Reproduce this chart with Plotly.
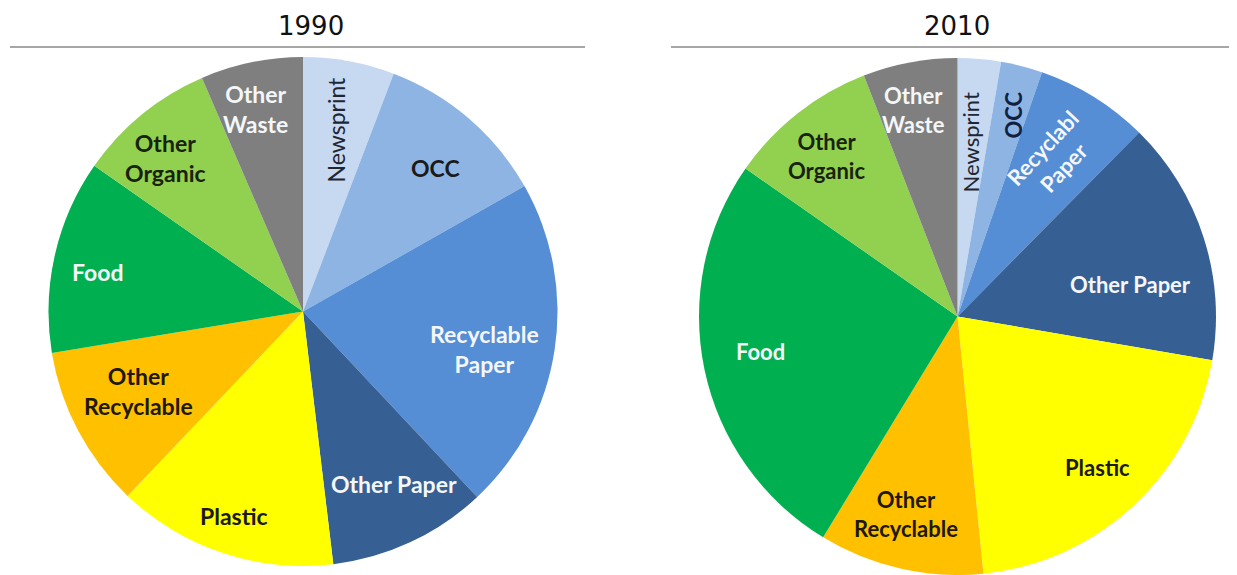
import plotly.graph_objects as go

# page body has an 8px margin; the figure is sized so the page matches the window
OFF = 8
W, H = 1237 - OFF, 575 - OFF

categories = ["Newsprint", "OCC", "Recyclable Paper", "Other Paper", "Plastic",
              "Other Recyclable", "Food", "Other Organic", "Other Waste"]
share_1990 = [5.8, 11.0, 21.2, 10.1, 14.0, 10.3, 12.3, 8.8, 6.5]
share_2010 = [2.7, 2.6, 7.1, 15.3, 20.7, 10.3, 26.0, 9.4, 5.9]
years = ["1990", "2010"]

colors = ["#c6d9f1", "#8db4e2", "#558ed5", "#365f93", "#ffff00",
          "#ffc000", "#00b050", "#92d050", "#7f7f7f"]


def px_x(x):
    return (x - OFF) / W


def px_y(y):
    return 1 - (y - OFF) / H


fig = go.Figure()

# pie boxes (page pixels): centre x, centre y, radius
boxes = [(303, 311.5, 254.5), (957.5, 316.5, 258.5)]
for vals, (cx, cy, r), yr in zip([share_1990, share_2010], boxes, years):
    fig.add_trace(go.Pie(
        labels=categories, values=vals, sort=False, direction="clockwise",
        rotation=0, textinfo="none", hoverinfo="label+percent",
        marker=dict(colors=colors, line=dict(width=0)),
        domain=dict(x=[px_x(cx - r), min(1, px_x(cx + r))],
                    y=[max(0, px_y(cy + r)), px_y(cy - r)]),
        showlegend=False, name=yr,
    ))

annotations = []
# titles
for yr, cx in zip(years, [311, 957]):
    annotations.append(dict(text=yr, x=px_x(cx), y=px_y(26), xref="paper", yref="paper",
                            showarrow=False, xanchor="center", yanchor="middle",
                            font=dict(family="DejaVu Sans", size=26, color="#111111")))

dark = "#1a1a1a"
white = "#f4f6f8"
# label text, position (page px), angle, colour, bold, size
labels_1990 = [
    ("Newsprint", 335.5, 130, -90, "#1e2633", False, 23),
    ("OCC", 435, 168, 0, dark, True, 23),
    ("Recyclable<br>Paper", 484, 349, 0, white, True, 23),
    ("Other Paper", 394, 484, 0, white, True, 23),
    ("Plastic", 234, 516, 0, dark, True, 23),
    ("Other<br>Recyclable", 138, 391, 0, "#201800", True, 23),
    ("Food", 98, 272, 0, white, True, 23),
    ("Other<br>Organic", 165, 158, 0, "#18220c", True, 23),
    ("Other<br>Waste", 255, 109, 0, white, True, 23),
]
labels_2010 = [
    ("Newsprint", 970, 142.5, -90, "#1e2633", False, 22),
    ("OCC", 1012.5, 115, -90, "#10213f", True, 22),
    ("Recyclabl<br>Paper", 1053, 158, -47, white, True, 22),
    ("Other Paper", 1130, 284, 0, white, True, 22),
    ("Plastic", 1097, 467, 0, dark, True, 22),
    ("Other<br>Recyclable", 906, 514, 0, "#201800", True, 22),
    ("Food", 760, 351, 0, white, True, 22),
    ("Other<br>Organic", 826, 156, 0, "#18220c", True, 22),
    ("Other<br>Waste", 913, 110, 0, white, True, 22),
]
for txt, x, y, ang, col, bold, sz in labels_1990 + labels_2010:
    annotations.append(dict(text=txt, x=px_x(x), y=px_y(y), xref="paper", yref="paper",
                            showarrow=False, xanchor="center", yanchor="middle",
                            textangle=ang,
                            font=dict(family="Lato", size=sz, color=col,
                                      weight="bold" if bold else "normal")))

shapes = [
    dict(type="line", xref="paper", yref="paper", x0=px_x(10), x1=px_x(585),
         y0=px_y(47), y1=px_y(47), line=dict(color="#a6a6a6", width=2)),
    dict(type="line", xref="paper", yref="paper", x0=px_x(671), x1=1,
         y0=px_y(47), y1=px_y(47), line=dict(color="#a6a6a6", width=2)),
]

fig.update_layout(width=W, height=H, margin=dict(l=0, r=0, t=0, b=0),
                  paper_bgcolor="white", plot_bgcolor="white",
                  annotations=annotations, shapes=shapes)

fig.write_html("out.html")
